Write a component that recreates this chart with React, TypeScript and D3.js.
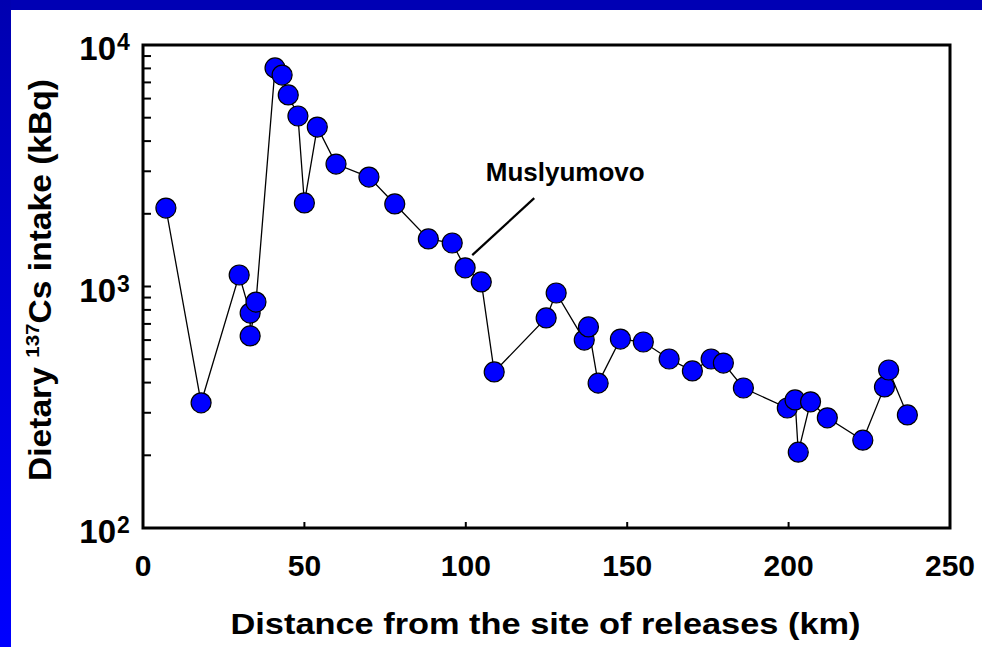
import React, { useEffect } from "react";
import { scaleLinear, scaleLog, line } from "d3";

// distance from the release site (km) and dietary 137Cs intake (kBq)
const distance = [
  7.1, 18, 29.8, 33.2, 33.2, 35, 40.9, 43.1, 45, 48, 50, 54, 59.8, 70, 78,
  88.4, 95.8, 99.8, 104.8, 108.8, 124.9, 128, 136.7, 138, 141, 147.9, 155, 163,
  170.2, 176, 179.8, 186, 199.6, 202, 203, 206.8, 212, 223, 229.7, 231, 236.8,
];
const intake = [
  2113, 330, 1116, 776, 624, 862, 8035, 7510, 6210, 5082, 2218, 4571, 3213,
  2839, 2197, 1574, 1514, 1195, 1045, 443, 741, 940, 600, 680, 398, 606, 589,
  501, 447, 501, 482, 380, 314, 339, 206, 333, 286, 231, 384, 451, 294,
];
const xTicks = [0, 50, 100, 150, 200, 250];
const yDecades = [100, 1000, 10000];
const yDecadeExp = ["2", "3", "4"];
// annotation: label position and leader line ends (data units)
const noteText = "Muslyumovo";
const noteAt = [130.8, 2735];
const noteLine = [
  [121.2, 2323],
  [102, 1349],
];

const FONT = "'Liberation Sans', Arial, Helvetica, sans-serif";

export default function App() {
  useEffect(() => {
    document.body.style.margin = "0";
    document.body.style.overflow = "hidden";
    document.body.style.background = "#fff";
    document.documentElement.style.background = "#fff";
  }, []);

  const width = 982,
    height = 647,
    left = 143,
    right = 950,
    top = 45,
    bottom = 528;

  const x = scaleLinear().domain([0, 250]).range([left, right]);
  const y = scaleLog().domain([100, 10000]).range([bottom, top]);

  const pts = distance.map((d, i) => [d, intake[i]] as [number, number]);
  const path = line<[number, number]>()
    .x((d) => x(d[0]))
    .y((d) => y(d[1]))(pts);

  const minor = y.ticks().filter((t) => t > 100 && t < 10000);

  return (
    <svg
      width={width}
      height={height}
      style={{ position: "fixed", left: 0, top: 0, display: "block" }}
      fontFamily={FONT}
      fontWeight="bold"
    >
      <defs>
        <linearGradient id="side" x1="0" y1="0" x2="0" y2="1">
          <stop offset="0" stopColor="#0000b0" />
          <stop offset="1" stopColor="#0000ff" />
        </linearGradient>
      </defs>
      <rect x={0} y={0} width={width} height={height} fill="#fff" />
      <rect x={0} y={0} width={width} height={10} fill="#0000b4" />
      <rect x={0} y={0} width={11} height={height} fill="url(#side)" />

      {/* y ticks (log, inward) */}
      {minor.map((t) => (
        <line
          key={t}
          x1={left}
          x2={left + 8}
          y1={y(t)}
          y2={y(t)}
          stroke="#000"
          strokeWidth={2}
        />
      ))}
      {yDecades.map((t, i) => (
        <g key={t}>
          <text x={116} y={y(t) + 15} textAnchor="end" fontSize={33}>
            10
          </text>
          <text x={117} y={y(t) + 5} textAnchor="start" fontSize={23}>
            {yDecadeExp[i]}
          </text>
        </g>
      ))}

      {/* x ticks (inward) */}
      {xTicks.map((t) => (
        <g key={t}>
          <line
            x1={x(t)}
            x2={x(t)}
            y1={bottom}
            y2={bottom - 6}
            stroke="#000"
            strokeWidth={2}
          />
          <text x={x(t)} y={576} textAnchor="middle" fontSize={30}>
            {t}
          </text>
        </g>
      ))}

      <text
        x={(left + right) / 2 - 1}
        y={634}
        textAnchor="middle"
        fontSize={30}
        textLength={630}
        lengthAdjust="spacingAndGlyphs"
      >
        Distance from the site of releases (km)
      </text>
      <text
        transform={`translate(51,${(79 + 481) / 2}) rotate(-90)`}
        textAnchor="middle"
        fontSize={31}
        textLength={402}
        lengthAdjust="spacingAndGlyphs"
      >
        Dietary{" "}
        <tspan fontSize={19} dy={-12}>
          137
        </tspan>
        <tspan dy={12}>Cs intake (kBq)</tspan>
      </text>

      {/* series */}
      <path d={path ?? ""} fill="none" stroke="#000" strokeWidth={1.3} />
      {pts.map((d, i) => (
        <circle
          key={i}
          cx={x(d[0])}
          cy={y(d[1])}
          r={10}
          fill="#0000ff"
          stroke="#000"
          strokeWidth={1.2}
        />
      ))}

      {/* annotation */}
      <line
        x1={x(noteLine[0][0])}
        y1={y(noteLine[0][1])}
        x2={x(noteLine[1][0])}
        y2={y(noteLine[1][1])}
        stroke="#000"
        strokeWidth={2.2}
      />
      <text x={x(noteAt[0])} y={y(noteAt[1])} textAnchor="middle" fontSize={26}>
        {noteText}
      </text>

      {/* frame */}
      <rect
        x={left}
        y={top}
        width={right - left}
        height={bottom - top}
        fill="none"
        stroke="#000"
        strokeWidth={3}
      />
    </svg>
  );
}
